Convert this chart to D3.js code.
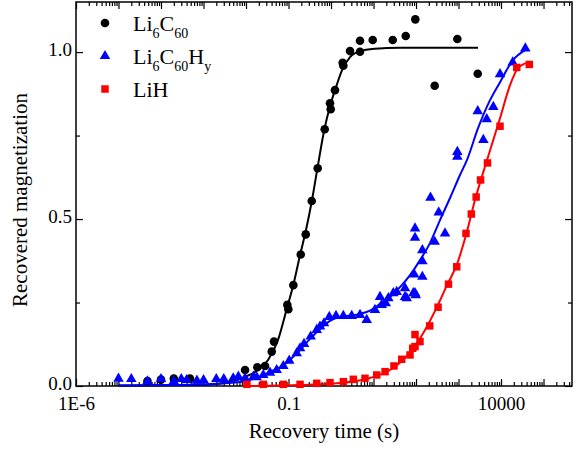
<!DOCTYPE html>
<html><head><meta charset="utf-8">
<script src="https://cdn.jsdelivr.net/npm/d3@7"></script>
<style>
html,body{margin:0;padding:0;background:#fff;}
svg{display:block;}
text{font-family:"Liberation Serif","Times New Roman",serif;fill:#000;}
</style></head>
<body>
<svg id="chart" width="582" height="452"></svg>
<script>
// ---- data (time in s, recovered magnetization) ----
const seriesNames = ["Li6C60", "Li6C60Hy", "LiH"];

const c60Time = [4.8e-5, 1e-4, 2e-4, 4.8e-4, 0.0095, 0.0185, 0.028, 0.0403, 0.0456, 0.0937, 0.099, 0.13, 0.194, 0.254, 0.352, 0.486, 0.711, 0.946, 0.984, 1.24, 1.88, 1.95, 2.8, 4.81, 4.81, 9.57, 28.3, 57.3, 96.3, 275, 938, 2830];
const c60Mag  = [0.015, 0.019, 0.022, 0.022, 0.048, 0.056, 0.060, 0.103, 0.133, 0.243, 0.230, 0.302, 0.394, 0.454, 0.554, 0.652, 0.769, 0.847, 0.829, 0.886, 0.968, 0.959, 1.003, 1.001, 1.034, 1.036, 1.036, 1.048, 1.098, 0.899, 1.039, 0.935];

const c60HTime = [1e-5, 2e-5, 4.8e-5, 1e-4, 2e-4, 3e-4, 4e-4, 7e-4, 1e-3, 2e-3, 3e-3, 5e-3, 6.6e-3, 0.0095, 0.015, 0.0179, 0.0255, 0.0367, 0.0527, 0.0755, 0.104, 0.156, 0.187, 0.232, 0.333, 0.461, 0.551, 0.684, 0.912, 1.31, 1.95, 3.07, 4.81, 6.92, 10.8, 15.6, 22.3, 19.4, 29.2, 35.2, 14.2, 55, 55, 60.4, 86.3, 94.7, 98.4, 91, 141, 141, 141, 94.7, 94.7, 219, 342, 481, 275, 938, 938, 3840, 2830, 4610, 6590, 9470, 18800, 37300];
const c60HMag  = [0.022, 0.021, 0.014, 0.021, 0.014, 0.021, 0.018, 0.016, 0.018, 0.021, 0.021, 0.023, 0.028, 0.023, 0.028, 0.026, 0.033, 0.040, 0.048, 0.060, 0.076, 0.098, 0.113, 0.126, 0.148, 0.168, 0.178, 0.188, 0.207, 0.210, 0.210, 0.210, 0.213, 0.198, 0.228, 0.243, 0.263, 0.248, 0.278, 0.282, 0.267, 0.293, 0.267, 0.263, 0.278, 0.278, 0.272, 0.334, 0.327, 0.374, 0.407, 0.472, 0.444, 0.564, 0.520, 0.457, 0.432, 0.701, 0.687, 0.737, 0.823, 0.799, 0.836, 0.934, 0.969, 1.011];

const lihTime = [0.0105, 0.0255, 0.0755, 0.187, 0.461, 0.946, 1.95, 3.35, 6.3, 11.9, 18.7, 30.3, 46.1, 72.3, 83.6, 94.7, 94.7, 124, 210, 330, 580, 908, 1500, 2000, 2600, 3300, 4800, 9470, 23400, 46300];
const lihMag  = [0.005, 0.005, 0.005, 0.005, 0.008, 0.010, 0.013, 0.020, 0.023, 0.033, 0.043, 0.060, 0.080, 0.093, 0.113, 0.118, 0.154, 0.133, 0.180, 0.236, 0.305, 0.357, 0.457, 0.515, 0.566, 0.617, 0.668, 0.778, 0.954, 0.963];

// fitted curves
const c60FitTime = [1e-5, 8.3e-4, 4.2e-3, 9.5e-3, 0.0191, 0.033, 0.0566, 0.0923, 0.1346, 0.1866, 0.258, 0.357, 0.494, 0.684, 0.946, 1.31, 1.82, 2.8, 4.81, 10.8, 42, 2880];
const c60FitMag  = [0.0015, 0.003, 0.012, 0.027, 0.048, 0.078, 0.138, 0.234, 0.311, 0.392, 0.467, 0.557, 0.662, 0.763, 0.838, 0.895, 0.946, 0.985, 1.003, 1.010, 1.013, 1.013];

const c60HFitTime = [1e-5, 8.3e-4, 7.2e-3, 0.0163, 0.0367, 0.0828, 0.1866, 0.321, 0.551, 0.946, 1.63, 2.8, 4.81, 8.28, 14.2, 28.8, 42, 72.3, 124, 213, 367, 631, 1084, 1585, 2880, 5510, 9470, 19100, 36700];
const c60HFitMag  = [0.0015, 0.0045, 0.012, 0.022, 0.042, 0.066, 0.108, 0.141, 0.171, 0.195, 0.207, 0.211, 0.216, 0.226, 0.246, 0.275, 0.296, 0.332, 0.377, 0.428, 0.497, 0.563, 0.632, 0.677, 0.772, 0.856, 0.910, 0.976, 1.006];

const lihFitTime = [0.0124, 0.1866, 1.63, 8.28, 24.4, 55, 94.7, 163, 312, 536, 922, 1500, 2440, 4690, 9470, 16300, 25100, 45600];
const lihFitMag  = [0.0, 0.003, 0.009, 0.024, 0.048, 0.084, 0.120, 0.168, 0.237, 0.302, 0.365, 0.452, 0.557, 0.677, 0.802, 0.901, 0.952, 0.970];

const xTickValues = [1e-6, 0.1, 10000];
const xTickLabels = ["1E-6", "0.1", "10000"];
const yTickValues = [0.0, 0.5, 1.0];
const yTickLabels = ["0.0", "0.5", "1.0"];
const xTitle = "Recovery time (s)";
const yTitle = "Recovered magnetization";

// ---- layout ----
const L = 76, R = 572, T = 2, B = 386;
const svg = d3.select("#chart");
const x = d3.scaleLog().domain([1e-6, Math.pow(10, 5.67)]).range([L, R]);
const y = d3.scaleLinear().domain([0, 1.15]).range([B, T]);

// tick sets
const majorX = [], minorX = [];
for (let e = -6; e <= 6; e++) {
  const b = Math.pow(10, e);
  if (b >= x.domain()[0] && b <= x.domain()[1]) majorX.push(b);
  for (let k = 2; k <= 9; k++) { const v = k * b; if (v > x.domain()[0] && v < x.domain()[1]) minorX.push(v); }
}
const minorY = [0.25, 0.75];

const fmtX = d => { const i = xTickValues.findIndex(v => Math.abs(Math.log10(v) - Math.log10(d)) < 1e-6); return i >= 0 ? xTickLabels[i] : ""; };
const fmtY = d => { const i = yTickValues.findIndex(v => Math.abs(v - d) < 1e-9); return i >= 0 ? yTickLabels[i] : ""; };

function styleAxis(g) {
  g.select(".domain").remove();
  g.selectAll("line").attr("stroke", "#000").attr("stroke-width", 1.2);
  g.selectAll("text").attr("font-size", 19).attr("font-family", "Liberation Serif, Times New Roman, serif");
}

// bottom
svg.append("g").attr("transform", `translate(0,${B})`)
  .call(d3.axisBottom(x).tickValues(majorX).tickSize(-7).tickPadding(11).tickFormat(fmtX)).call(styleAxis);
svg.append("g").attr("transform", `translate(0,${B})`)
  .call(d3.axisBottom(x).tickValues(minorX).tickSize(-4).tickFormat("")).call(styleAxis);
// top
svg.append("g").attr("transform", `translate(0,${T})`)
  .call(d3.axisTop(x).tickValues(majorX).tickSize(-7).tickFormat("")).call(styleAxis);
svg.append("g").attr("transform", `translate(0,${T})`)
  .call(d3.axisTop(x).tickValues(minorX).tickSize(-4).tickFormat("")).call(styleAxis);
// left
const yAx = svg.append("g").attr("transform", `translate(${L},0)`)
  .call(d3.axisLeft(y).tickValues(yTickValues).tickSize(-7).tickPadding(4).tickFormat(fmtY)).call(styleAxis);
yAx.selectAll("text").attr("y", -3);
svg.append("g").attr("transform", `translate(${L},0)`)
  .call(d3.axisLeft(y).tickValues(minorY).tickSize(-4).tickFormat("")).call(styleAxis);
// right
svg.append("g").attr("transform", `translate(${R},0)`)
  .call(d3.axisRight(y).tickValues(yTickValues).tickSize(-7).tickFormat("")).call(styleAxis);
svg.append("g").attr("transform", `translate(${R},0)`)
  .call(d3.axisRight(y).tickValues(minorY).tickSize(-4).tickFormat("")).call(styleAxis);

// frame
svg.append("rect").attr("x", L).attr("y", T).attr("width", R - L).attr("height", B - T)
  .attr("fill", "none").attr("stroke", "#000").attr("stroke-width", 1.5);

// fit lines
const line = d3.line().x(d => x(d[0])).y(d => y(d[1])).curve(d3.curveMonotoneX);
const fits = [
  {t: c60FitTime, m: c60FitMag, c: "#000000"},
  {t: c60HFitTime, m: c60HFitMag, c: "#0000ff"},
  {t: lihFitTime, m: lihFitMag, c: "#ff0000"}
];
fits.forEach(f => {
  svg.append("path").datum(f.t.map((t, i) => [t, f.m[i]]))
    .attr("d", line).attr("fill", "none").attr("stroke", f.c).attr("stroke-width", 2);
});

// markers
const symCircle = d3.symbol().type(d3.symbolCircle).size(58);
const symTri = d3.symbol().type(d3.symbolTriangle).size(48);
const symSq = d3.symbol().type(d3.symbolSquare).size(56);
const pts = [
  {t: c60Time, m: c60Mag, c: "#000000", s: symCircle},
  {t: c60HTime, m: c60HMag, c: "#0000ff", s: symTri},
  {t: lihTime, m: lihMag, c: "#ff0000", s: symSq}
];
pts.forEach(p => {
  svg.append("g").selectAll("path").data(p.t.map((t, i) => [t, p.m[i]])).join("path")
    .attr("d", p.s()).attr("fill", p.c)
    .attr("transform", d => `translate(${x(d[0])},${y(d[1])})`);
});

// legend
const leg = svg.append("g");
const legRows = [
  {yy: 23, s: symCircle, c: "#000000", parts: [["Li", 0], ["6", 1], ["C", 0], ["60", 1]]},
  {yy: 56, s: symTri, c: "#0000ff", parts: [["Li", 0], ["6", 1], ["C", 0], ["60", 1], ["H", 0], ["y", 1]]},
  {yy: 89, s: symSq, c: "#ff0000", parts: [["LiH", 0]]}
];
legRows.forEach(r => {
  leg.append("path").attr("d", r.s()).attr("fill", r.c).attr("transform", `translate(105,${r.yy})`);
  const t = leg.append("text").attr("x", 133).attr("y", r.yy + 8).attr("font-size", 22);
  r.parts.forEach(([s, sub], i) => {
    const ts = t.append("tspan").text(s);
    const prevSub = i > 0 && r.parts[i - 1][1];
    if (sub) ts.attr("font-size", 14).attr("dy", 7);
    else ts.attr("dy", prevSub ? -7 : 0);
  });
});

// axis titles
svg.append("text").attr("x", (L + R) / 2).attr("y", 438).attr("text-anchor", "middle")
  .attr("font-size", 21).text(xTitle);
svg.append("text").attr("transform", "translate(27,200) rotate(-90)").attr("text-anchor", "middle")
  .attr("font-size", 21).text(yTitle);
</script>
</body></html>
